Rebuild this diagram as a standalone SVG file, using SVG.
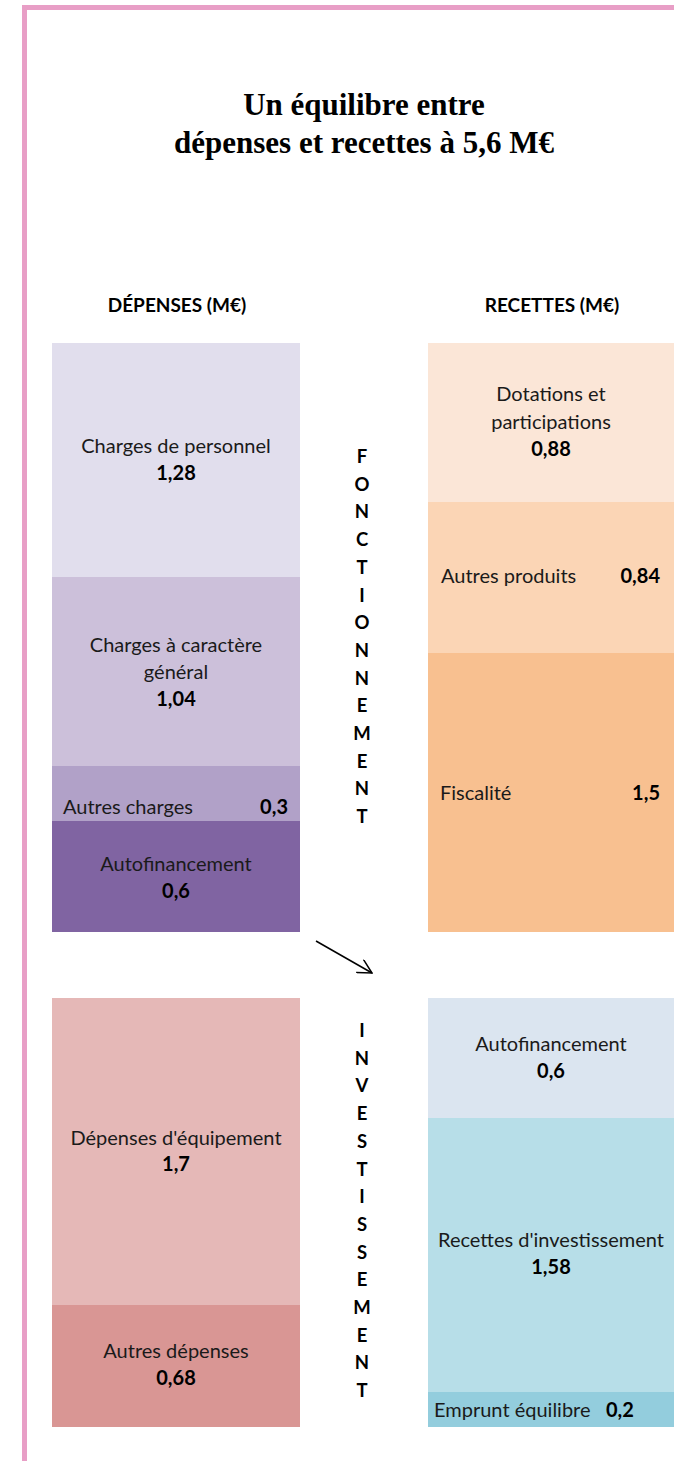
<svg xmlns="http://www.w3.org/2000/svg" width="674" height="1461" viewBox="0 0 674 1461">
<style>
.t{font-family:Lato,"Liberation Sans",sans-serif;font-size:20px;fill:#1a1a1a}
.c{text-anchor:middle}
.e{text-anchor:end}
.b{font-weight:bold;fill:#000}
.h{font-family:Lato,"Liberation Sans",sans-serif;font-size:19px;font-weight:bold;fill:#000;text-anchor:middle}
.title{font-family:"Liberation Serif",serif;font-size:31px;font-weight:bold;fill:#000;text-anchor:middle}
.v{font-family:Lato,"Liberation Sans",sans-serif;font-size:18.5px;font-weight:bold;fill:#000;text-anchor:middle}
.ln{stroke:#000;stroke-width:1.5;fill:none}
</style>
<defs>
<marker id="arr" viewBox="0 0 16 16" refX="15" refY="8" markerWidth="16" markerHeight="16" markerUnits="userSpaceOnUse" orient="auto">
<path d="M1,0.5 L15,8 L1,15.5" fill="none" stroke="#000" stroke-width="1.5"/>
</marker>
</defs>
<rect width="674" height="1461" fill="#fff"/>
<g id="border">
<rect x="22" y="5" width="652" height="5" fill="#E89EC6"/>
<rect x="22" y="5" width="5" height="1456" fill="#E89EC6"/>
</g>
<g id="title">
<text class="title" x="364" y="115">Un équilibre entre</text>
<text class="title" x="364" y="153">dépenses et recettes à 5,6 M€</text>
</g>
<g id="headers">
<text class="h" x="177" y="312">DÉPENSES (M€)</text>
<text class="h" x="552" y="312">RECETTES (M€)</text>
</g>
<g id="charges-personnel">
<rect x="52" y="343" width="248" height="234" fill="#E1DEED"/>
<text class="t c" x="176" y="453">Charges de personnel</text>
<text class="t c b" x="176" y="480">1,28</text>
</g>
<g id="charges-generales">
<rect x="52" y="577" width="248" height="189" fill="#CCC0DA"/>
<text class="t c" x="176" y="652">Charges à caractère</text>
<text class="t c" x="176" y="679">général</text>
<text class="t c b" x="176" y="706">1,04</text>
</g>
<g id="autres-charges">
<rect x="52" y="766" width="248" height="55" fill="#B1A1C8"/>
<text class="t" x="63" y="814">Autres charges</text>
<text class="t e b" x="288" y="814">0,3</text>
</g>
<g id="autofinancement-dep">
<rect x="52" y="821" width="248" height="111" fill="#8064A2"/>
<text class="t c" x="176" y="871">Autofinancement</text>
<text class="t c b" x="176" y="898">0,6</text>
</g>
<g id="depenses-equipement">
<rect x="52" y="998" width="248" height="307" fill="#E5B8B7"/>
<text class="t c" x="176" y="1145">Dépenses d'équipement</text>
<text class="t c b" x="176" y="1171">1,7</text>
</g>
<g id="autres-depenses">
<rect x="52" y="1305" width="248" height="122" fill="#D99694"/>
<text class="t c" x="176" y="1358">Autres dépenses</text>
<text class="t c b" x="176" y="1385">0,68</text>
</g>
<g id="dotations">
<rect x="428" y="343" width="246" height="159" fill="#FBE6D7"/>
<text class="t c" x="551" y="401">Dotations et</text>
<text class="t c" x="551" y="429">participations</text>
<text class="t c b" x="551" y="456">0,88</text>
</g>
<g id="autres-produits">
<rect x="428" y="502" width="246" height="151" fill="#FBD5B5"/>
<text class="t" x="441" y="583">Autres produits</text>
<text class="t e b" x="660" y="583">0,84</text>
</g>
<g id="fiscalite">
<rect x="428" y="653" width="246" height="279" fill="#F8C090"/>
<text class="t" x="440" y="800">Fiscalité</text>
<text class="t e b" x="660" y="800">1,5</text>
</g>
<g id="autofinancement-rec">
<rect x="428" y="998" width="246" height="120" fill="#DBE5F0"/>
<text class="t c" x="551" y="1051">Autofinancement</text>
<text class="t c b" x="551" y="1078">0,6</text>
</g>
<g id="recettes-investissement">
<rect x="428" y="1118" width="246" height="274" fill="#B7DEE8"/>
<text class="t c" x="551" y="1247">Recettes d'investissement</text>
<text class="t c b" x="551" y="1274">1,58</text>
</g>
<g id="emprunt">
<rect x="428" y="1392" width="246" height="35" fill="#93CDDD"/>
<text class="t" x="434" y="1417">Emprunt équilibre</text>
<text class="t b" x="606" y="1417">0,2</text>
</g>
<g id="fonctionnement">
<text class="v"><tspan x="362" y="463">F</tspan><tspan x="362" dy="27.7">O</tspan><tspan x="362" dy="27.7">N</tspan><tspan x="362" dy="27.7">C</tspan><tspan x="362" dy="27.7">T</tspan><tspan x="362" dy="27.7">I</tspan><tspan x="362" dy="27.7">O</tspan><tspan x="362" dy="27.7">N</tspan><tspan x="362" dy="27.7">N</tspan><tspan x="362" dy="27.7">E</tspan><tspan x="362" dy="27.7">M</tspan><tspan x="362" dy="27.7">E</tspan><tspan x="362" dy="27.7">N</tspan><tspan x="362" dy="27.7">T</tspan></text>
</g>
<g id="investissement">
<text class="v"><tspan x="362" y="1037">I</tspan><tspan x="362" dy="27.7">N</tspan><tspan x="362" dy="27.7">V</tspan><tspan x="362" dy="27.7">E</tspan><tspan x="362" dy="27.7">S</tspan><tspan x="362" dy="27.7">T</tspan><tspan x="362" dy="27.7">I</tspan><tspan x="362" dy="27.7">S</tspan><tspan x="362" dy="27.7">S</tspan><tspan x="362" dy="27.7">E</tspan><tspan x="362" dy="27.7">M</tspan><tspan x="362" dy="27.7">E</tspan><tspan x="362" dy="27.7">N</tspan><tspan x="362" dy="27.7">T</tspan></text>
</g>
<g id="connectors">
<path class="ln" d="M316,941 L372,973" marker-end="url(#arr)"/>
</g>
</svg>
